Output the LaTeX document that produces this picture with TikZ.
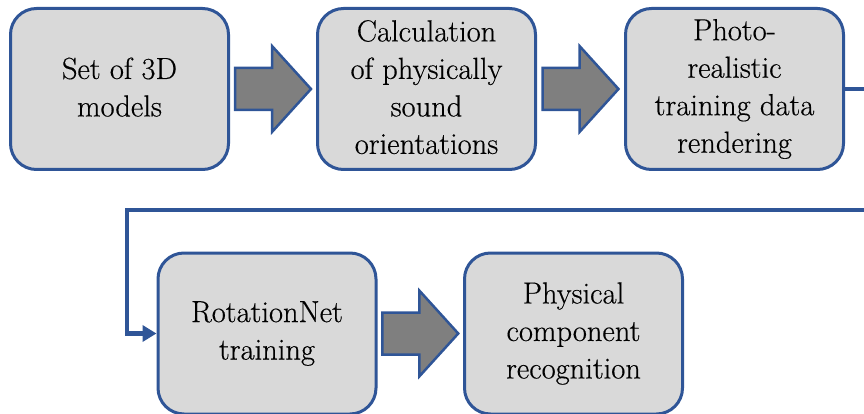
\documentclass[tikz,border=0pt]{standalone}
\usepackage{fontspec}
\setmainfont{Latin Modern Roman}[FakeBold=0.4]
\usetikzlibrary{calc,arrows.meta}

\definecolor{boxblue}{HTML}{2F5597}
\definecolor{boxgray}{HTML}{D9D9D9}
\definecolor{arrowgray}{HTML}{7F7F7F}

% strut that fixes line height/depth so every box places its text alike
\newcommand\boxstrut{\rule[-4pt]{0pt}{37.5pt}}

% thick grey block arrow centred between two nodes
\newcommand\blockarrow[2]{%
  \draw[blockarrow] ($(#1.east)!0.5!(#2.west)$) ++(-38,-21)
    -- ++(37,0) -- ++(0,-22) -- ++(39,43) -- ++(-39,43)
    -- ++(0,-22) -- ++(-37,0) -- cycle;}

\begin{document}
\begin{tikzpicture}[x=1pt,y=-1pt,
  stepbox/.style={draw=boxblue, fill=boxgray, line width=3pt,
    rounded corners=26pt, minimum width=218pt, minimum height=161pt,
    inner sep=0pt, align=center,
    font=\rmfamily\fontsize{30.5}{37.5}\selectfont,
    execute at begin node=\boxstrut, execute at end node=\boxstrut},
  flow/.style={draw=boxblue, line width=4.2pt,
    -{Triangle[length=14pt,width=16pt]}},
  blockarrow/.style={draw=boxblue, fill=arrowgray, line width=2.5pt,
    line join=miter}]

\useasboundingbox (0,0) rectangle (864,414);
\clip (0,0) rectangle (864,414);

% process steps, top row
\node[stepbox] (models) at (119.5,89) {Set of 3D\\models};
\node[stepbox] (orient) at (426.5,89) {Calculation\\of physically\\sound\\orientations};
\node[stepbox] (render) at (734.5,89) {Photo-\\realistic\\training data\\rendering};

% process steps, bottom row
\node[stepbox] (rotnet) at (267,333.5) {RotationNet\\training};
\node[stepbox] (recog) at (573.5,333.5) {Physical\\component\\recognition};

% block arrows between neighbouring steps
\blockarrow{models}{orient}
\blockarrow{orient}{render}
\blockarrow{rotnet}{recog}

% return line from the end of the top row to the bottom row
\coordinate (turnR) at (900,210);
\coordinate (turnL) at (127,210);
\draw[flow] (render.east) -| (turnR) -- (turnL) |- (rotnet.west);

\end{tikzpicture}
\end{document}
